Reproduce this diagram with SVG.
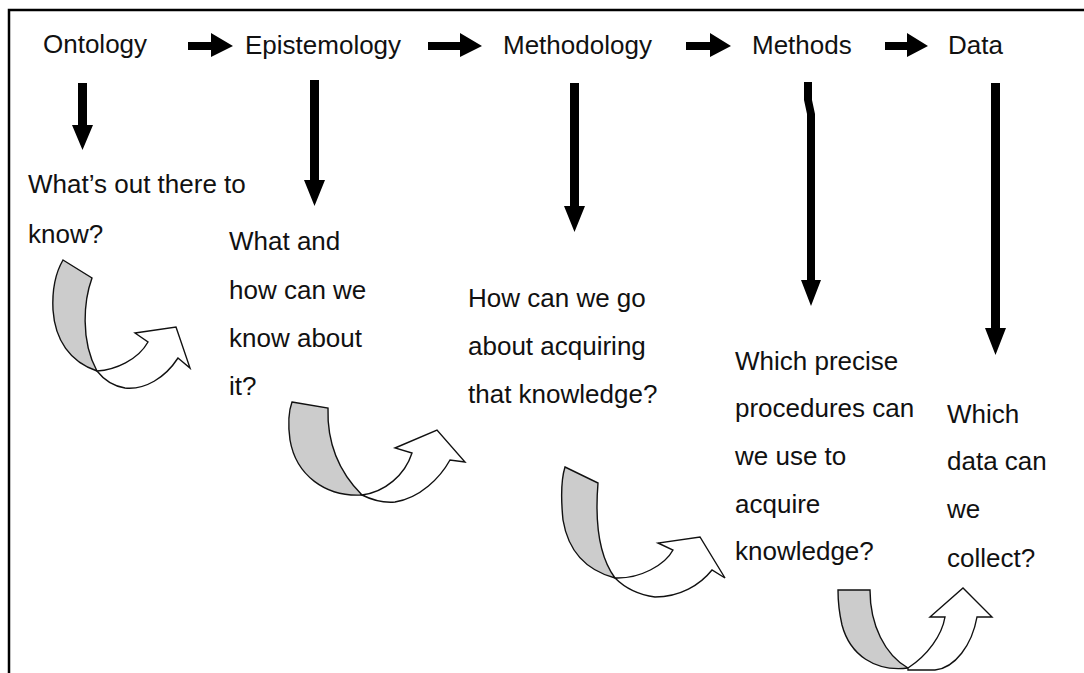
<svg xmlns="http://www.w3.org/2000/svg" width="1084" height="673" viewBox="0 0 1084 673">
  <style>
    text { font-family: "Liberation Sans", Arial, sans-serif; font-size: 26px; fill: #111; }
    .frame { stroke: #000; stroke-width: 2.5; fill: none; }
    .solid { fill: #000; stroke: none; }
    .band { fill: #cccccc; stroke: #111; stroke-width: 1.4; stroke-linejoin: miter; }
    .open { fill: #fff; stroke: #111; stroke-width: 1.4; stroke-linejoin: miter; }
  </style>

  <!-- frame -->
  <path class="frame" d="M9,673 V10 H1084"/>

  <!-- level headings -->
  <g id="ontology"><text x="43" y="53">Ontology</text></g>
  <g id="epistemology"><text x="245" y="54">Epistemology</text></g>
  <g id="methodology"><text x="503" y="54">Methodology</text></g>
  <g id="methods"><text x="752" y="54">Methods</text></g>
  <g id="data"><text x="948" y="54">Data</text></g>

  <!-- questions -->
  <g id="q-ontology">
    <text x="28" y="193">What’s out there to</text>
    <text x="28" y="243">know?</text>
  </g>
  <g id="q-epistemology">
    <text x="229" y="250">What and</text>
    <text x="229" y="299">how can we</text>
    <text x="229" y="347">know about</text>
    <text x="229" y="395">it?</text>
  </g>
  <g id="q-methodology">
    <text x="468" y="307">How can we go</text>
    <text x="468" y="355">about acquiring</text>
    <text x="468" y="403">that knowledge?</text>
  </g>
  <g id="q-methods">
    <text x="735" y="370">Which precise</text>
    <text x="735" y="417">procedures can</text>
    <text x="735" y="465">we use to</text>
    <text x="735" y="513">acquire</text>
    <text x="735" y="560">knowledge?</text>
  </g>
  <g id="q-data">
    <text x="947" y="423">Which</text>
    <text x="947" y="470">data can</text>
    <text x="947" y="518">we</text>
    <text x="947" y="567">collect?</text>
  </g>

  <g id="connectors">
    <!-- arrows between headings -->
    <path class="solid" d="M188,42 H211 V33 L233,46 L211,57 V50 H188 Z"/>
    <path class="solid" d="M428,42 H460 V33 L482,46 L460,57 V50 H428 Z"/>
    <path class="solid" d="M686,42 H710 V33 L731,46 L710,57 V50 H686 Z"/>
    <path class="solid" d="M885,42 H907 V33 L928,46 L907,57 V50 H885 Z"/>

    <!-- arrows from headings to questions -->
    <path class="solid" d="M78,83 H87 V125 H93 L82.5,150 L72,125 H78 Z"/>
    <path class="solid" d="M310,80 H319 V180 H325 L314.5,206 L304,180 H310 Z"/>
    <path class="solid" d="M570,83 H579 V206 H585 L574.5,232 L564,206 H570 Z"/>
    <path class="solid" d="M804,82 H812 V100 L815,114 V280 H821 L811,306 L801,280 H807 V114 L804,100 Z"/>
    <path class="solid" d="M991,83 H1000 V328 H1006 L995.5,355 L985,328 H991 Z"/>

    <!-- curved arrows from each question to the next -->
    <g id="turn-1">
      <path class="band" d="M63,260 L92,278 C84,300 80,340 97,371 C70,362 55,340 53,310 C52,290 56,272 63,260 Z"/>
      <path class="open" d="M97,371 C115,370 138,360 148,342 L135,333 L176,327 L190,368 L178,358 C165,378 145,390 125,388 C113,386 104,380 97,371 Z"/>
    </g>
    <g id="turn-2">
      <path class="band" d="M292,402 L328,408 C327,440 337,470 362,495 C325,497 296,475 290,440 C288,425 289,410 292,402 Z"/>
      <path class="open" d="M362,495 C385,492 405,475 412,453 L395,448 L437,430 L465,462 L450,460 C440,478 420,498 395,502 C383,503 372,500 362,495 Z"/>
    </g>
    <g id="turn-3">
      <path class="band" d="M565,467 L598,483 C595,520 598,555 615,578 C585,570 568,550 563,520 C561,500 561,480 565,467 Z"/>
      <path class="open" d="M615,578 C640,579 665,565 673,550 L658,543 L700,537 L725,578 L712,570 C700,585 680,597 655,597 C640,595 625,588 615,578 Z"/>
    </g>
    <g id="turn-4">
      <path class="band" d="M838,590 L870,590 C870,625 885,655 908,668 C875,672 850,655 842,625 C839,612 838,600 838,590 Z"/>
      <path class="open" d="M908,668 C928,655 942,635 945,617 L930,617 L963,588 L992,617 L977,617 C972,645 955,668 935,670 L908,670 Z"/>
    </g>
  </g>
</svg>
